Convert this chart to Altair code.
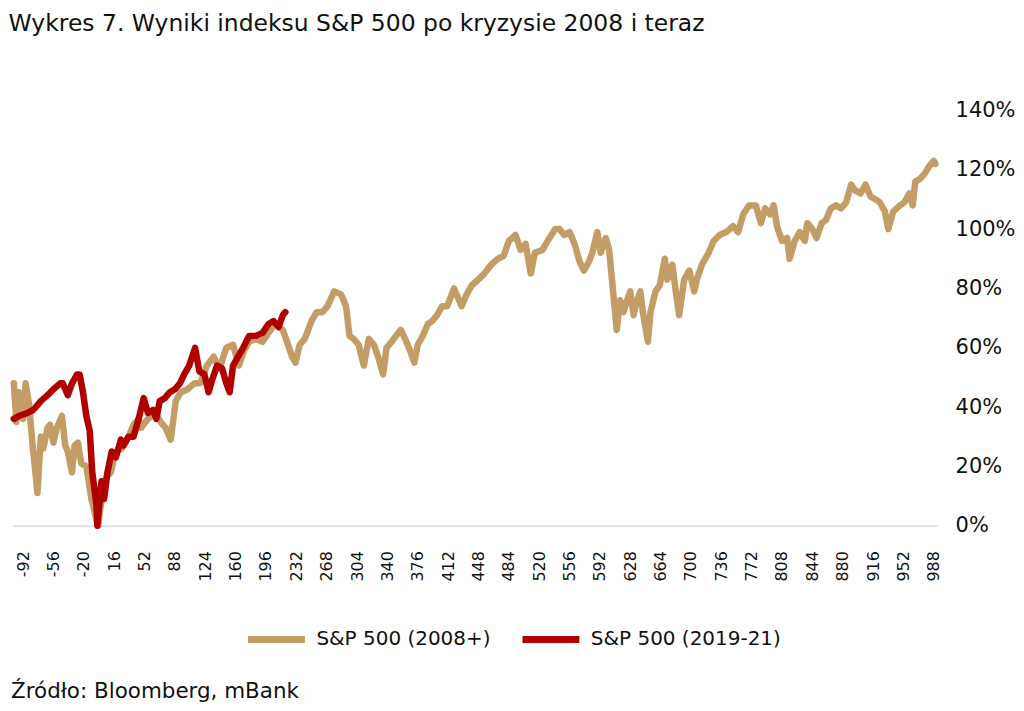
import altair as alt
import pandas as pd

TITLE = "Wykres 7. Wyniki indeksu S&P 500 po kryzysie 2008 i teraz"
SOURCE = "Źródło: Bloomberg, mBank"
SERIES = ["S&P 500 (2008+)", "S&P 500 (2019-21)"]
COLORS = ["#C49C66", "#B00000"]

x_ticks = list(range(-92, 989, 36))
y_ticks = [0, 20, 40, 60, 80, 100, 120, 140]

# S&P 500 after 2008 crisis (days relative to bottom, % above bottom)
tan_days = [-103, -100, -97, -92, -89, -85, -81, -75, -71, -68, -63, -60, -56, -52, -46, -42, -39, -34, -31, -27,
            -23, -17, -11, -5, -3, 1, 6, 12, 18, 25, 33, 39, 45, 48, 56, 65, 71, 77, 83, 89,
            95, 103, 111, 118, 126, 134, 141, 149, 157, 164, 170, 176, 184, 192, 199, 207, 216, 221, 227, 231,
            236, 242, 250, 256, 263, 269, 277, 285, 291, 295, 300, 306, 312, 318, 324, 329, 335, 339, 345, 353,
            356, 361, 367, 372, 376, 382, 388, 393, 399, 405, 411, 419, 425, 428, 434, 440, 448, 455, 463, 471,
            478, 484, 492, 498, 504, 510, 515, 524, 530, 539, 544, 550, 556, 562, 568, 573, 579, 583, 589, 593,
            599, 603, 608, 612, 616, 620, 623, 628, 632, 635, 640, 643, 649, 652, 658, 663, 669, 672, 678, 682,
            686, 692, 698, 704, 707, 713, 721, 727, 734, 742, 750, 756, 762, 769, 777, 783, 788, 794, 798, 802,
            808, 814, 817, 823, 829, 835, 838, 844, 849, 855, 860, 866, 872, 878, 884, 890, 895, 901, 907, 913,
            919, 924, 930, 934, 940, 948, 953, 959, 963, 966, 972, 978, 982, 988, 990]
tan_vals = [48, 35, 45, 36, 48, 41, 28, 11, 30, 26, 33, 34, 28, 33, 37, 27, 25, 18, 27, 28,
            21, 20, 9, 2, 0, 9, 16, 18, 25, 26, 30, 34, 36, 33, 36, 38, 35, 33, 29, 42,
            45, 46, 48, 48, 54, 57, 53, 60, 61, 54, 59, 62, 63, 62, 65, 68, 66, 62, 57, 55,
            61, 63, 69, 72, 72, 74, 79, 78, 74, 64, 63, 61, 54, 63, 61, 57, 51, 60, 62, 65,
            66, 63, 59, 55, 61, 64, 68, 69, 71, 74, 74, 80, 76, 74, 78, 81, 83, 85, 88, 90,
            91, 96, 98, 93, 95, 85, 92, 93, 96, 100, 100, 98, 99, 95, 89, 86, 89, 92, 99, 92,
            97, 93, 78, 66, 76, 72, 75, 79, 71, 75, 79, 72, 62, 72, 79, 81, 90, 83, 88, 79,
            71, 83, 86, 79, 83, 88, 92, 96, 98, 99, 101, 99, 105, 108, 108, 102, 107, 105, 108, 101,
            96, 97, 90, 96, 99, 96, 102, 100, 97, 102, 103, 107, 108, 107, 109, 115, 113, 112, 115, 111,
            110, 109, 106, 100, 106, 108, 109, 112, 108, 116, 117, 119, 121, 123, 122]

# S&P 500 2019-21
red_days = [-103, -97, -87, -80, -71, -63, -56, -48, -45, -39, -34, -28, -25, -21, -17, -13, -10, -5, -4, 1,
            4, 8, 13, 18, 24, 27, 33, 39, 45, 51, 56, 62, 66, 70, 76, 82, 88, 94, 99, 105,
            112, 117, 123, 128, 132, 138, 144, 149, 153, 157, 163, 169, 176, 184, 192, 199, 205, 211, 216, 219]
red_vals = [36, 37, 38, 39, 42, 44, 46, 48, 48, 44, 48, 51, 51, 45, 37, 32, 18, 7, 0, 15,
            9, 18, 25, 23, 29, 27, 30, 30, 36, 43, 38, 39, 36, 42, 43, 45, 46, 48, 51, 54,
            60, 52, 51, 45, 49, 54, 53, 48, 45, 54, 57, 60, 64, 64, 65, 68, 69, 67, 71, 72]

df = pd.concat([
    pd.DataFrame({"day": tan_days, "value": tan_vals, "series": SERIES[0]}),
    pd.DataFrame({"day": red_days, "value": red_vals, "series": SERIES[1]}),
], ignore_index=True)

FONT = "DejaVu Sans"
W, H = 926, 416

color = alt.Color(
    "series:N",
    scale=alt.Scale(domain=SERIES, range=COLORS),
    legend=alt.Legend(
        title=None, orient="none", direction="horizontal",
        legendX=232, legendY=498, gridAlign="none",
        symbolType="stroke", symbolSize=3249, symbolStrokeWidth=7,
        labelFont=FONT, labelFontSize=20, labelColor="#111111", labelLimit=0,
        labelOffset=8, columnPadding=17,
    ),
)

x = alt.X(
    "day:Q",
    scale=alt.Scale(domain=[-104, 992], nice=False, zero=False),
    axis=alt.Axis(
        values=x_ticks, labelAngle=-90, labelExpr="datum.value + ''",
        labelFont=FONT, labelFontSize=16,
        labelColor="#111111", labelPadding=25, ticks=False, grid=False,
        domainColor="#D9D9D9", domainWidth=1.5, labelOverlap=False, labelFlush=False,
    ),
    title=None,
)
y = alt.Y(
    "value:Q",
    scale=alt.Scale(domain=[0, 140], nice=False),
    axis=alt.Axis(
        orient="right", values=y_ticks, labelExpr="datum.value + '%'",
        labelFont=FONT, labelFontSize=21, labelColor="#111111", labelPadding=18,
        ticks=False, grid=False, domain=False,
    ),
    title=None,
)

base = alt.Chart(df).mark_line(strokeWidth=6.5, strokeJoin="round", strokeCap="round").encode(
    x=x, y=y, color=color
)
tan = base.transform_filter(alt.datum.series == SERIES[0])
red = base.transform_filter(alt.datum.series == SERIES[1])

src = alt.Chart(pd.DataFrame({"t": [SOURCE]})).mark_text(
    align="left", baseline="middle", font=FONT, fontSize=21.5, color="#111111"
).encode(x=alt.value(-2), y=alt.value(583), text="t:N")

chart = alt.layer(tan, red, src).properties(
    width=W, height=H,
    title=alt.TitleParams(TITLE, anchor="start", font=FONT, fontSize=23.5, fontWeight="normal",
                          color="#111111", offset=64, dx=-2),
    padding={"left": 0, "top": 3, "right": 0, "bottom": 0},
    background="white",
).configure_view(stroke=None)

chart.save("out.html", embed_options={"renderer": "svg", "actions": False})
